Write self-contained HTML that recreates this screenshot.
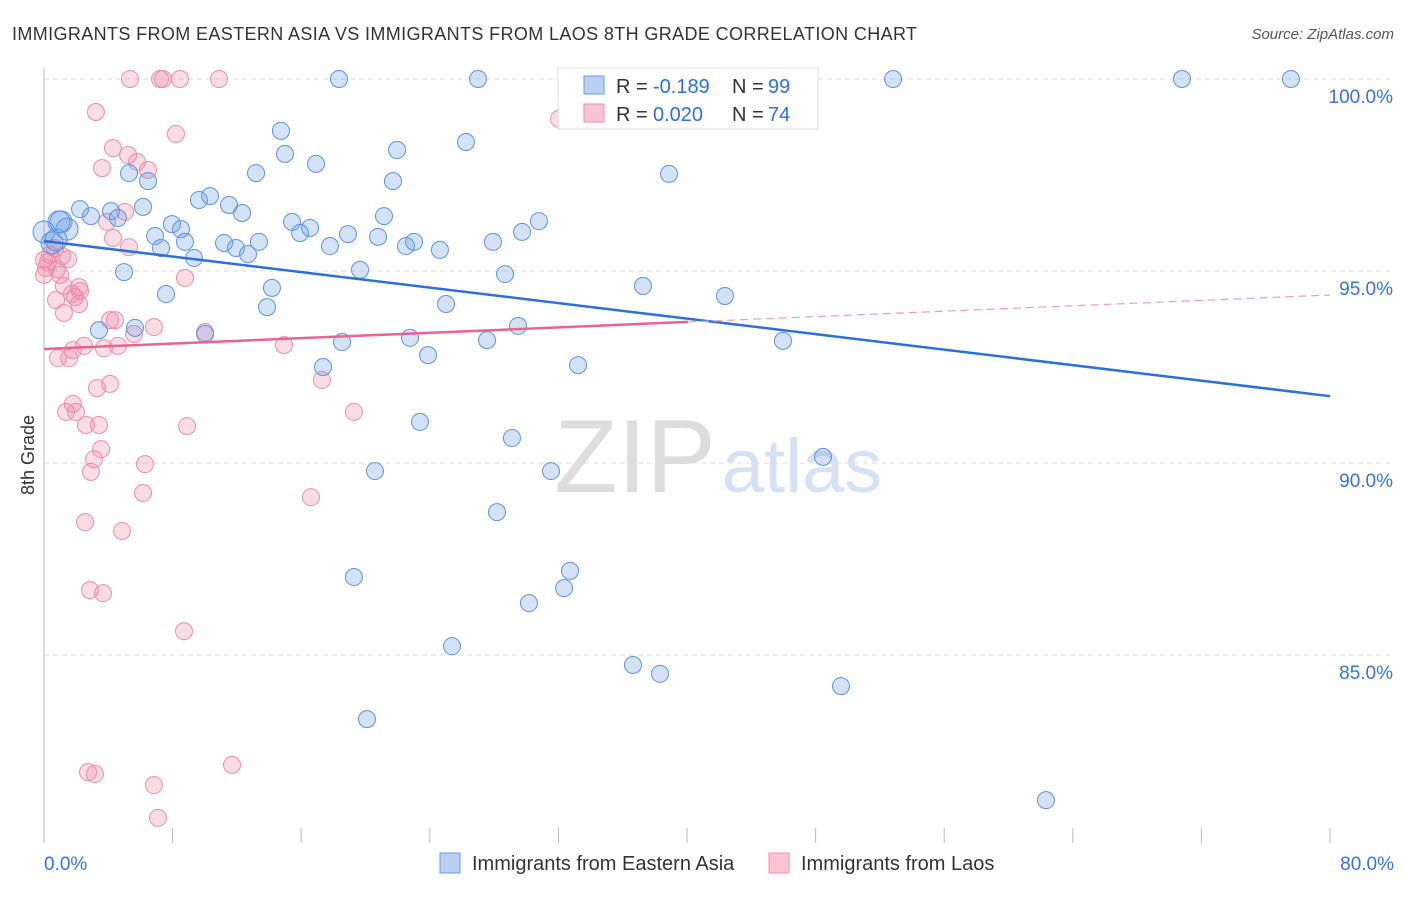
<!DOCTYPE html>
<html><head><meta charset="utf-8"><style>
body{margin:0;background:#fff;font-family:"Liberation Sans",sans-serif}
svg text{font-family:"Liberation Sans",sans-serif}
</style></head><body>
<svg id="chart" width="1406" height="892">
<text x="12" y="40" font-size="18" fill="#333" textLength="905" lengthAdjust="spacing">IMMIGRANTS FROM EASTERN ASIA VS IMMIGRANTS FROM LAOS 8TH GRADE CORRELATION CHART</text>
<text x="1394" y="39" font-size="15" fill="#555" font-style="italic" text-anchor="end">Source: ZipAtlas.com</text>
<text x="34" y="455" font-size="18" fill="#333" transform="rotate(-90 34 455)" text-anchor="middle">8th Grade</text>
<g><text x="635" y="492" font-size="104" fill="#ddd" text-anchor="middle" font-family="Liberation Serif,serif">ZIP</text><text x="802" y="492" font-size="76" fill="#d4e2f4" text-anchor="middle">atlas</text></g>
<g id="grid"></g><g id="ticks"></g><g id="pts"></g><g id="lines"></g>
<g>
<rect x="558" y="68" width="260" height="61" fill="#fff" stroke="#ddd"/>
<rect x="584" y="76" width="20" height="18" fill="#b9d0f2" stroke="#6b9be0"/>
<rect x="584" y="104" width="20" height="18" fill="#f8c3d2" stroke="#ec93ad"/>
<text x="616" y="93" font-size="20" fill="#333">R =</text><text x="653" y="93" font-size="20" fill="#2f6fd6">-0.189</text>
<text x="732" y="93" font-size="20" fill="#333">N =</text><text x="768" y="93" font-size="20" fill="#2f6fd6">99</text>
<text x="616" y="121" font-size="20" fill="#333">R =</text><text x="653" y="121" font-size="20" fill="#2f6fd6">0.020</text>
<text x="732" y="121" font-size="20" fill="#333">N =</text><text x="768" y="121" font-size="20" fill="#2f6fd6">74</text>
</g>
<g>
<rect x="440" y="853" width="20" height="20" fill="#b9d0f2" stroke="#6b9be0"/>
<text x="472" y="870" font-size="20" fill="#333">Immigrants from Eastern Asia</text>
<rect x="769" y="853" width="20" height="20" fill="#f8c3d2" stroke="#ec93ad"/>
<text x="801" y="870" font-size="20" fill="#333">Immigrants from Laos</text>
</g>
</svg>
<script>
const yTicks=[100,95,90,85];
const xTickLabels=["0.0%","80.0%"];
const blueX=[18.35,27.0,34.28,37.82,43.17,52.82,70.79,77.57,14.74,26.25,21.96,14.99,16.92,5.29,6.47,13.19,21.71,38.88,10.33,9.64,11.51,6.16,2.24,4.17,12.32,21.15,15.43,30.79,7.96,8.52,16.55,15.93,1.06,1.43,2.92,4.60,6.91,18.91,20.78,29.74,11.20,8.77,7.28,13.37,17.79,22.52,23.02,24.63,27.93,11.94,12.69,9.33,19.66,28.68,4.98,37.26,14.18,7.59,42.36,13.87,25.01,29.49,5.66,3.42,10.02,22.77,18.54,27.56,45.97,23.89,33.22,17.36,23.39,29.11,20.59,31.54,48.46,28.18,19.28,32.72,32.35,30.17,25.38,36.64,38.32,49.58,20.09,62.33,0,0.5,0.93,0.75];
const blueY=[100,100,99.92,100,100,100,100,100,98.65,98.36,98.15,98.05,97.79,97.55,97.34,97.55,97.34,97.53,96.95,96.85,96.72,96.67,96.61,96.56,96.51,96.43,96.28,96.30,96.22,96.09,96.12,95.99,96.28,96.09,96.43,96.38,95.91,95.96,95.89,96.02,95.73,95.76,95.60,95.76,95.65,95.65,95.76,95.55,95.76,95.60,95.44,95.34,95.03,94.92,94.97,94.61,94.56,94.40,94.35,94.06,94.14,93.57,93.52,93.46,93.36,93.26,93.15,93.20,93.18,92.81,92.55,92.50,91.07,90.65,89.79,89.79,90.16,88.72,87.03,87.19,86.74,86.35,85.23,84.74,84.51,84.19,83.33,81.22,96.02,95.73,96.28,95.81];
const pinkX=[5.35,7.22,7.40,8.46,10.89,3.23,32.04,8.21,4.29,5.23,5.79,6.47,3.61,5.04,3.92,4.29,5.29,0.68,1.12,0.25,1.49,0.81,1.00,8.77,1.24,1.74,2.18,2.24,1.93,2.18,1.24,0.75,4.11,4.42,6.84,10.02,5.60,2.49,1.80,3.73,4.60,14.93,0.87,1.56,3.30,4.11,17.29,19.28,1.80,1.99,1.37,2.61,3.42,8.90,3.55,3.11,2.92,6.28,6.16,16.61,2.55,4.85,2.86,3.67,8.71,2.74,3.17,11.70,6.84,7.09,0,0,0.37,0.12];
const pinkY=[100,100,100,100,100,99.14,98.96,98.57,98.20,98.02,97.84,97.63,97.68,96.54,96.28,95.86,95.62,95.60,95.39,95.23,95.31,95.05,94.90,94.82,94.61,94.40,94.58,94.48,94.32,94.14,93.91,94.24,93.72,93.72,93.54,93.41,93.36,93.05,92.94,92.99,93.05,93.07,92.73,92.73,91.95,92.06,92.16,91.33,91.54,91.33,91.33,90.99,90.99,90.96,90.36,90.10,89.77,89.97,89.22,89.11,88.46,88.23,86.69,86.61,85.62,81.95,81.90,82.14,81.61,80.76,95.29,94.90,95.42,95.08];
const blueTrend=[95.78,91.74];
const pinkTrend=[92.97,94.375];
const pinkSolidEnd=40.06;
const NS="http://www.w3.org/2000/svg";
const sx=v=>44+v/80*1286, sy=v=>79+(100-v)*38.4;
function mk(t,a,p){const e=document.createElementNS(NS,t);for(const k in a)e.setAttribute(k,a[k]);p.appendChild(e);return e;}
const grid=document.getElementById('grid'),ticks=document.getElementById('ticks');
const ax=mk('line',{x1:44,y1:68,x2:44,y2:843,stroke:'#bbb'},grid);


yTicks.forEach(v=>{
 const g=mk('line',{x1:44,y1:sy(v),x2:1394,y2:sy(v),stroke:'#ddd','stroke-dasharray':'5,4'},grid);
 
 
 const t=mk('text',{x:1393,y:sy(v)+24,'font-size':19,fill:'#3a72d6','text-anchor':'end'},ticks);
 t.textContent=v.toFixed(1)+'%';
 
 
});
for(let i=1;i<=10;i++){
 const l=mk('line',{x1:sx(i*8),y1:828,x2:sx(i*8),y2:843,stroke:'#bbb'},ticks);
 
 
}
[[0,'start',44],[80,'end',1394]].forEach((d,i)=>{
 const t=mk('text',{x:d[2],y:870,'font-size':19,fill:'#3a72d6','text-anchor':d[1]},ticks);
 t.textContent=xTickLabels[i];
 
 
});
const pts=document.getElementById('pts');
pinkX.forEach((x,i)=>{
 const c=mk('circle',{cx:sx(x),cy:sy(pinkY[i]),r:8.5,fill:'rgba(240,140,170,0.3)',stroke:'#ea8fab','stroke-width':1},pts);
 
 
});
blueX.forEach((x,i)=>{
 const c=mk('circle',{cx:sx(x),cy:sy(blueY[i]),r:(x<1.5?11:8.5),fill:'rgba(110,160,230,0.3)',stroke:'#5f93dc','stroke-width':1},pts);
 
 
});
const L=document.getElementById('lines');
const b=mk('line',{x1:sx(0),y1:sy(blueTrend[0]),x2:sx(80),y2:sy(blueTrend[1]),stroke:'#2c6fd8','stroke-width':2.5},L);


const pe=pinkTrend[0]+(pinkTrend[1]-pinkTrend[0])*pinkSolidEnd/80;
const p=mk('line',{x1:sx(0),y1:sy(pinkTrend[0]),x2:sx(pinkSolidEnd),y2:sy(pe),stroke:'#e8648f','stroke-width':2.5},L);


const pd=mk('line',{x1:sx(pinkSolidEnd),y1:sy(pe),x2:sx(80),y2:sy(pinkTrend[1]),stroke:'#e8a0b8','stroke-width':1.2,'stroke-dasharray':'8,5'},L);


</script>
</body></html>
